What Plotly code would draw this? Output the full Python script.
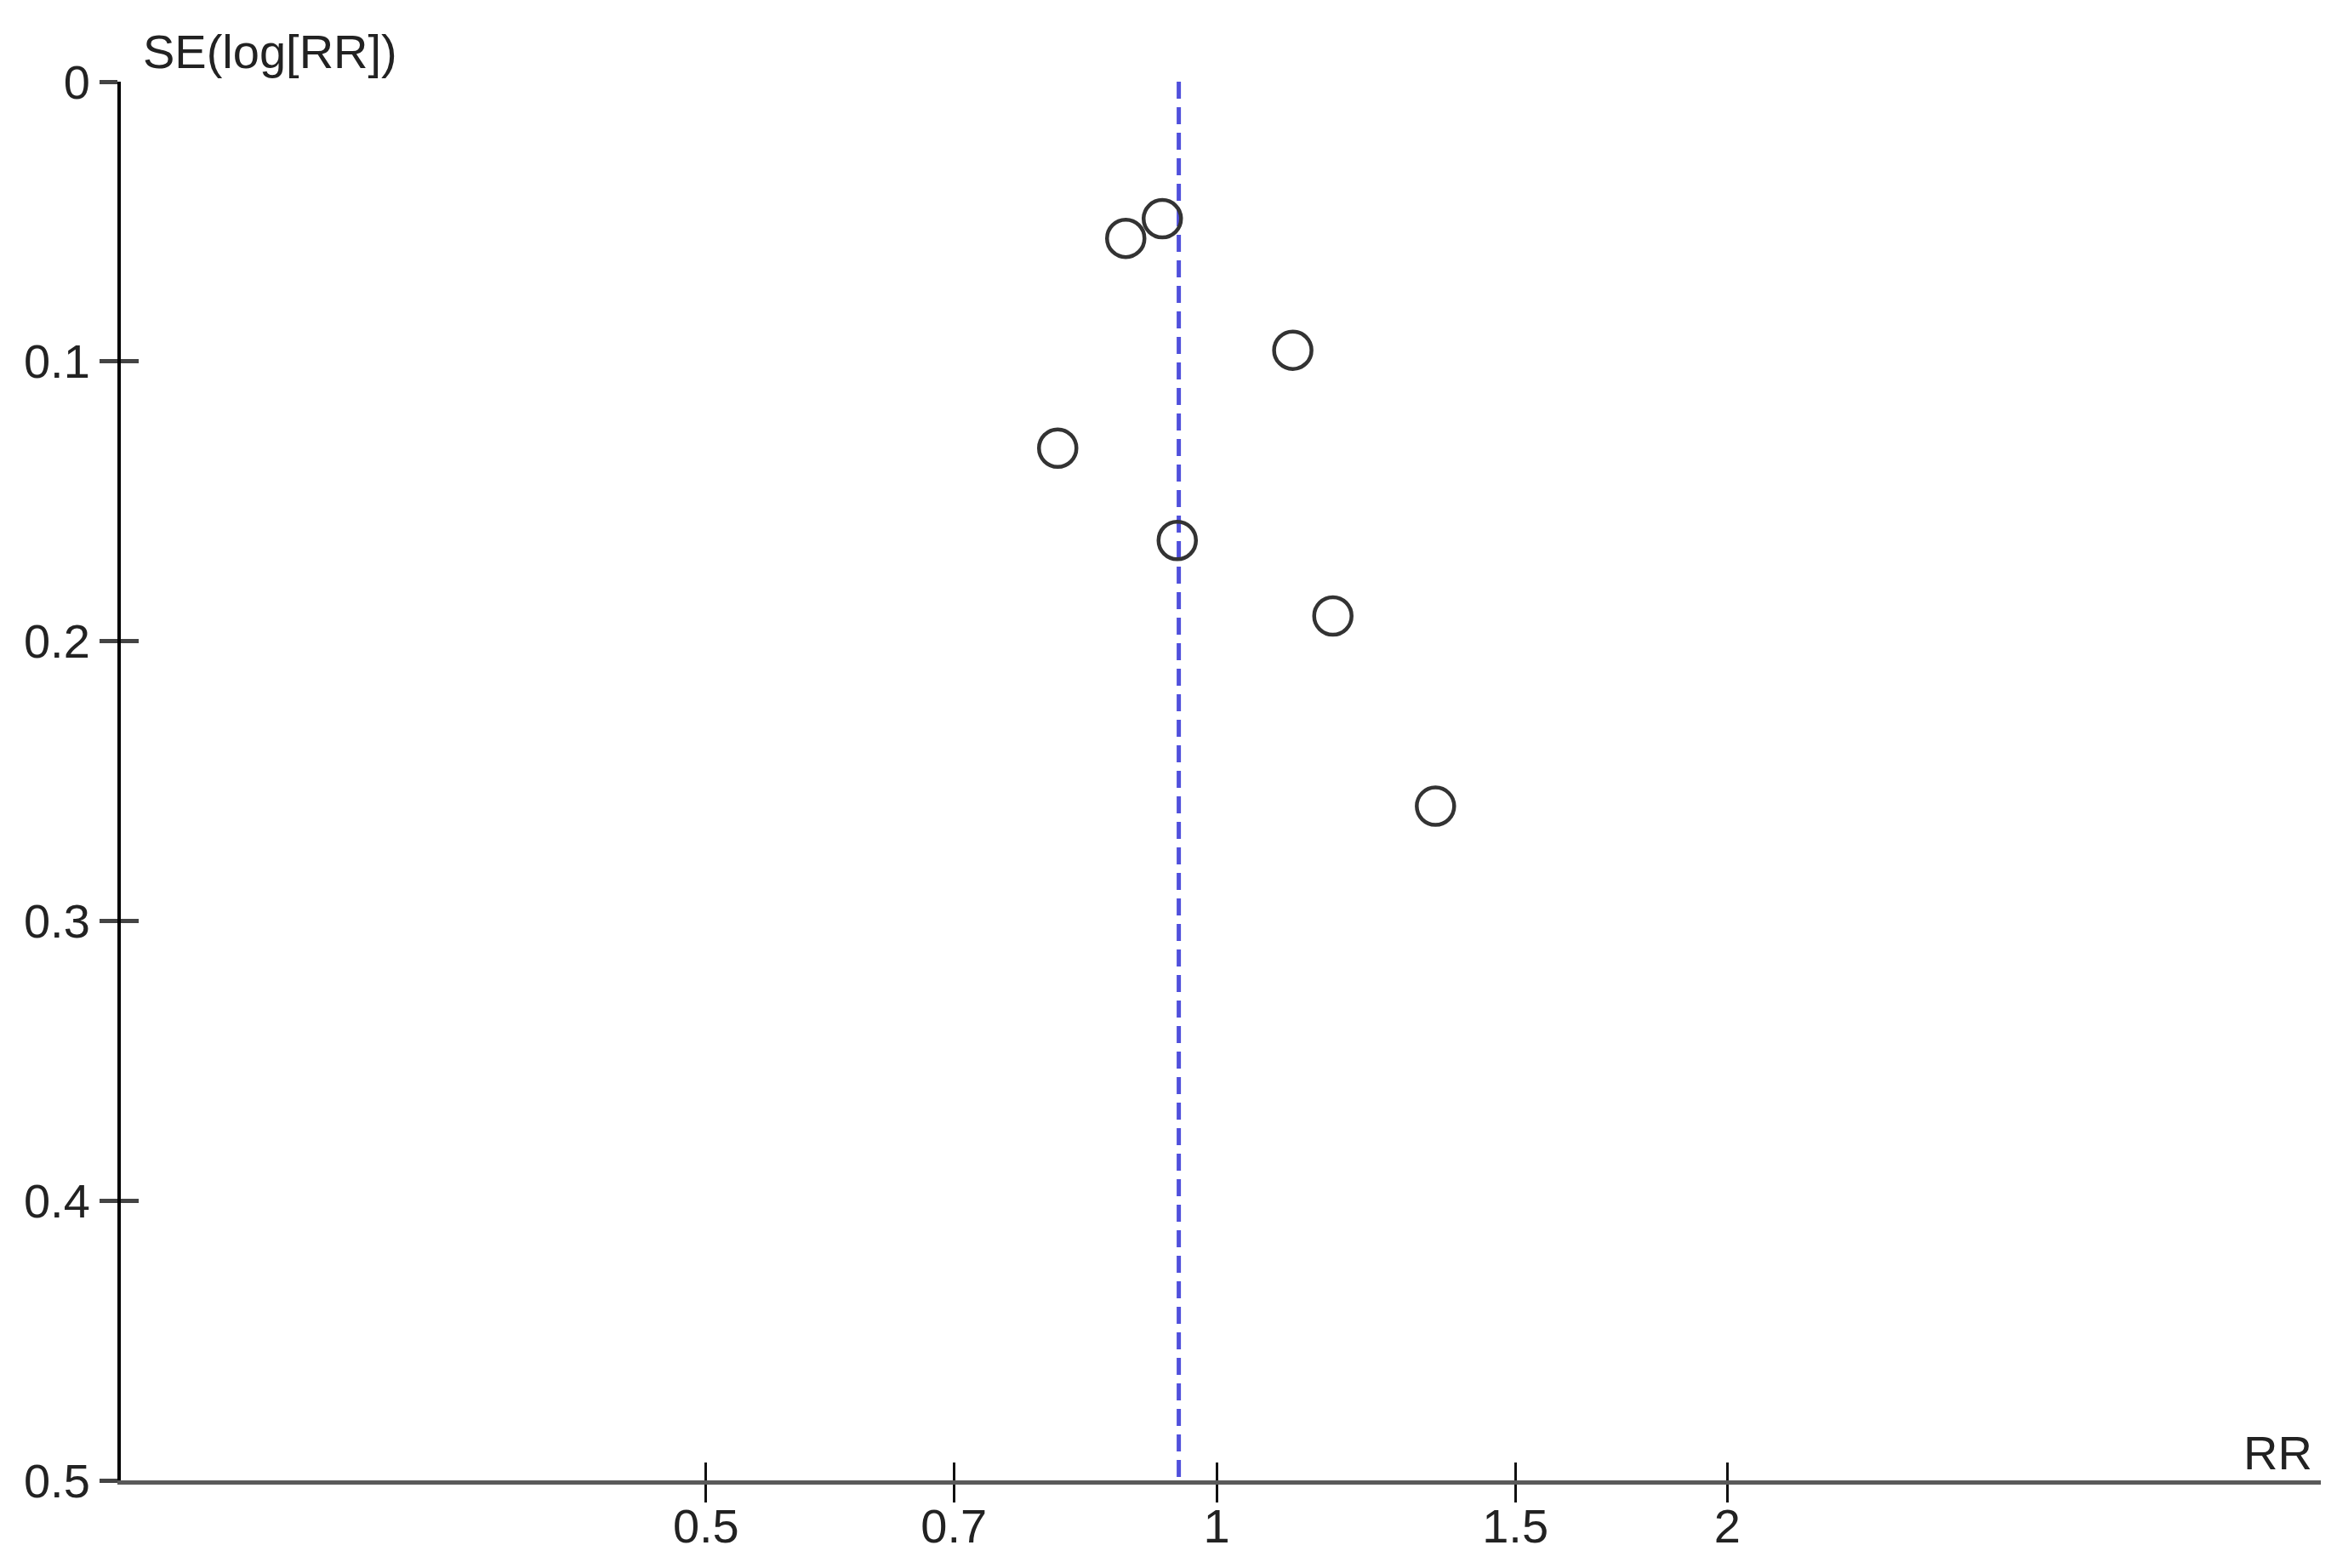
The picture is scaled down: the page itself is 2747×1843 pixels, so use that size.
import plotly.graph_objects as go

# study estimates
rr = [0.929, 0.884, 1.109, 0.806, 0.948, 1.171, 1.346]
se_log_rr = [0.049, 0.056, 0.096, 0.131, 0.164, 0.191, 0.259]

# pooled estimate (dashed line)
pooled_rr = 0.950

x_ticks = [0.5, 0.7, 1, 1.5, 2]
x_tick_text = ["0.5", "0.7", "1", "1.5", "2"]
y_ticks = [0, 0.1, 0.2, 0.3, 0.4, 0.5]
y_tick_text = ["0", "0.1", "0.2", "0.3", "0.4", "0.5"]
x_range = [-0.646, 0.651]  # log10 of RR
y_range = [0.5, 0]

FONT = "Liberation Sans, Arial, sans-serif"
TXT = "#222222"

fig = go.Figure()

# pooled estimate line
fig.add_trace(
    go.Scatter(
        x=[pooled_rr, pooled_rr],
        y=[y_ticks[0], y_ticks[-1]],
        mode="lines",
        line=dict(color="#5050dc", width=5, dash="20px,10px"),
        hoverinfo="skip",
    )
)

# studies
fig.add_trace(
    go.Scatter(
        x=rr,
        y=se_log_rr,
        mode="markers",
        marker=dict(
            symbol="circle-open",
            size=44,
            color="#333333",
            line=dict(color="#333333", width=4.5),
        ),
        hovertemplate="RR: %{x}<br>SE: %{y}",
    )
)

# invisible trace so the inner tick axes get drawn
fig.add_trace(
    go.Scatter(
        x=[pooled_rr],
        y=[y_ticks[0]],
        xaxis="x2",
        yaxis="y2",
        mode="markers",
        marker=dict(opacity=0),
        hoverinfo="skip",
    )
)

fig.update_layout(
    width=2747,
    height=1843,
    showlegend=False,
    plot_bgcolor="white",
    paper_bgcolor="white",
    margin=dict(l=134, r=27, t=88, b=111),
    font=dict(family=FONT, size=56, color=TXT),
    xaxis=dict(
        type="log",
        range=x_range,
        tickvals=x_ticks,
        ticktext=x_tick_text,
        ticks="outside",
        ticklen=21,
        tickwidth=3,
        tickcolor="#111111",
        ticklabelstandoff=-20,
        showline=True,
        linecolor="#5a5a5a",
        linewidth=5,
        showgrid=False,
        zeroline=False,
        tickfont=dict(size=56, color=TXT),
    ),
    yaxis=dict(
        range=y_range,
        tickvals=y_ticks,
        ticktext=y_tick_text,
        ticks="outside",
        ticklen=21,
        tickwidth=5,
        tickcolor="#444444",
        showline=True,
        linecolor="#000000",
        linewidth=4,
        showgrid=False,
        zeroline=False,
        tickfont=dict(size=56, color=TXT),
    ),
    xaxis2=dict(
        type="log",
        range=x_range,
        overlaying="x",
        anchor="y",
        side="bottom",
        tickvals=x_ticks,
        ticks="inside",
        ticklen=21,
        tickwidth=3,
        tickcolor="#111111",
        showticklabels=False,
        showline=False,
        showgrid=False,
        zeroline=False,
    ),
    yaxis2=dict(
        range=y_range,
        overlaying="y",
        anchor="x",
        side="left",
        tickvals=y_ticks,
        ticks="inside",
        ticklen=21,
        tickwidth=5,
        tickcolor="#444444",
        showticklabels=False,
        showline=False,
        showgrid=False,
        zeroline=False,
    ),
    annotations=[
        dict(
            text="SE(log[RR])",
            xref="paper",
            yref="paper",
            x=0,
            y=1,
            xanchor="left",
            yanchor="middle",
            xshift=24,
            yshift=36,
            showarrow=False,
            font=dict(size=56, color=TXT),
        ),
        dict(
            text="RR",
            xref="paper",
            yref="paper",
            x=1,
            y=0,
            xanchor="right",
            yanchor="middle",
            xshift=-8,
            yshift=33,
            showarrow=False,
            font=dict(size=56, color=TXT),
        ),
    ],
)

fig.write_html("out.html")
